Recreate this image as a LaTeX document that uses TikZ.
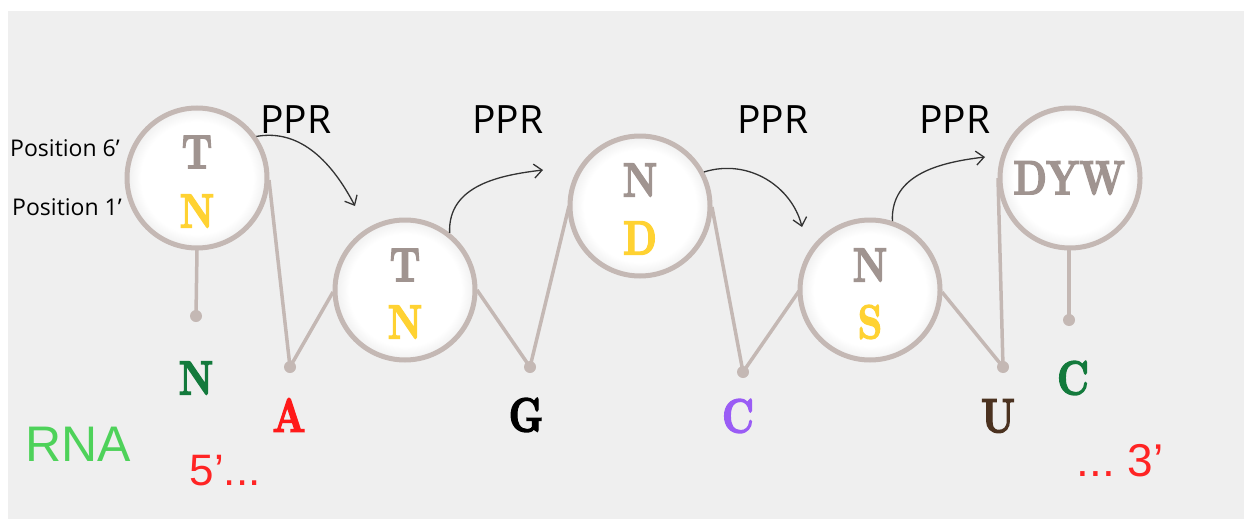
\documentclass[tikz,border=0pt]{standalone}
\usepackage{fontspec}
\usetikzlibrary{arrows.meta}
\newfontfamily\opensans{Open Sans}
\newfontfamily\arialf{Liberation Sans}
\newfontfamily\heavyserif{lmroman10-bold}[Extension=.otf, FakeBold=3]
\definecolor{bgc}{HTML}{EFEFEF}
\definecolor{ringc}{HTML}{C4B8B4}
\definecolor{grayl}{HTML}{A09490}
\definecolor{yell}{HTML}{FFD232}
\definecolor{dgreen}{HTML}{137A3C}
\definecolor{redA}{HTML}{FF1A1A}
\definecolor{purp}{HTML}{9A5CF5}
\definecolor{brownU}{HTML}{4B3220}
\definecolor{rnagreen}{HTML}{4ED25A}
\definecolor{redt}{HTML}{FF2424}
\definecolor{arrc}{HTML}{333333}
\pgfdeclareradialshading{ringshade}{\pgfpoint{0bp}{0bp}}{color(0bp)=(white); color(20bp)=(white); color(24bp)=(bgc!80!white); color(25bp)=(bgc); color(50bp)=(bgc)}
\tikzset{
  circ/.style={circle, draw=ringc, line width=5pt, shading=ringshade, minimum size=140pt, inner sep=0pt},
  dotn/.style={circle, fill=ringc, minimum size=12pt, inner sep=0pt},
  link/.style={draw=ringc, line width=3.5pt},
  ppr/.style={-{Straight Barb[length=8pt,width=14pt]}, draw=arrc, line width=1.3pt},
  big/.style={inner sep=0pt, font=\heavyserif\fontsize{48}{48}\selectfont},
  pprlab/.style={inner sep=0pt, font=\opensans\fontsize{39}{39}\selectfont},
  poslab/.style={inner sep=0pt, font=\opensans\fontsize{23}{23}\selectfont},
}
\newcommand{\nar}[1]{\scalebox{0.8}[1]{#1}}
\begin{document}
\begin{tikzpicture}[x=1pt,y=-1pt]
\useasboundingbox (0,0) rectangle (1244,519);
\fill[white] (0,0) rectangle (1244,519);
\fill[bgc] (8,11) rectangle (1244,519);
% dots
\node[dotn] (d1) at (196,316) {};
\node[dotn] (dA) at (290,367) {};
\node[dotn] (dG) at (530,367) {};
\node[dotn] (dC) at (743,372) {};
\node[dotn] (dU) at (1003,367) {};
\node[dotn] (d5) at (1069,320) {};
% circle centres
\coordinate (p1) at (197,178);
\coordinate (p2) at (405,290);
\coordinate (p3) at (640,206);
\coordinate (p4) at (870,290);
\coordinate (p5) at (1070,178);
% links (drawn under circles)
\draw[link] (269,180) -- (dA.center) -- (333,292);
\draw[link] (477,290) -- (dG.center) -- (569,206);
\draw[link] (712,207) -- (dC.center) -- (799,291);
\draw[link] (942,292) -- (dU.center) -- (998,178);
\draw[link] (197,250) -- (d1.center);
\draw[link] (1069,250) -- (d5.center);
\node[circ] (c1) at (p1) {};
\node[circ] (c2) at (p2) {};
\node[circ] (c3) at (p3) {};
\node[circ] (c4) at (p4) {};
\node[circ] (c5) at (p5) {};
% letters in circles
\node[big, text=grayl] (c1t) at (197,152) {\nar{T}};
\node[big, text=yell] (c1b) at (197,211) {\nar{N}};
\node[big, text=grayl] (c2t) at (405,265) {\nar{T}};
\node[big, text=yell] (c2b) at (405,322) {\nar{N}};
\node[big, text=grayl] (c3t) at (640,180) {\nar{N}};
\node[big, text=yell] (c3b) at (640,238) {\nar{D}};
\node[big, text=grayl] (c4t) at (870,265) {\nar{N}};
\node[big, text=yell] (c4b) at (870,322) {\nar{S}};
\node[big, text=grayl] (c5t) at (1069,178) {\nar{DYW}};
% RNA letters
\node[big, text=dgreen] (lN) at (196,378) {\nar{N}};
\node[big, text=redA] (lA) at (289,415) {\nar{A}};
\node[big, text=black] (lG) at (526,415) {\nar{G}};
\node[big, text=purp] (lC) at (738,416) {\nar{C}};
\node[big, text=brownU] (lU) at (998,416) {\nar{U}};
\node[big, text=dgreen] (lC2) at (1073,378) {\nar{C}};
% labels
\node[pprlab] (ppr1) at (296,120) {PPR};
\node[pprlab] (ppr2) at (508,120) {PPR};
\node[pprlab] (ppr3) at (773,120) {PPR};
\node[pprlab] (ppr4) at (955,120) {PPR};
\node[poslab] (pos6) at (65,148) {Position 6’};
\node[poslab] (pos1) at (67,207) {Position 1’};
\node[inner sep=0pt, text=rnagreen, font=\arialf\fontsize{50}{50}\selectfont] (rna) at (78,444) {RNA};
\node[inner sep=0pt, text=redt, font=\arialf\fontsize{44}{44}\selectfont] (five) at (225,471) {5’...};
\node[inner sep=0pt, text=redt, font=\arialf\fontsize{46}{46}\selectfont] (three) at (1120,461) {...~3’};
% arrows
\coordinate (t1) at (355,206);
\coordinate (t2) at (543,170);
\coordinate (t3) at (802,227);
\coordinate (t4) at (985,157);
\draw[ppr] (c1.35) .. controls +(45,-8) and +(-22,-42) .. (t1);
\draw[ppr] (c2.52) .. controls +(-2,-48) and +(-42,5) .. (t2);
\draw[ppr] (c3.28) .. controls +(45,-14) and +(-10,-40) .. (t3);
\draw[ppr] (c4.72) .. controls +(-2,-48) and +(-42,5) .. (t4);
\end{tikzpicture}
\end{document}
